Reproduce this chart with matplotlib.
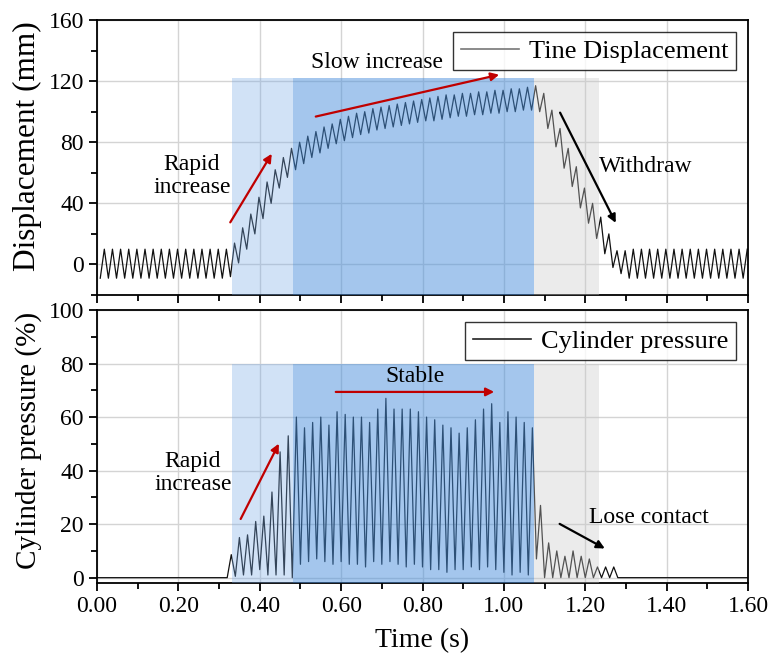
import numpy as np
import matplotlib.pyplot as plt
from matplotlib.ticker import MultipleLocator, FormatStrFormatter

plt.rcParams["font.family"] = ["Liberation Serif", "DejaVu Serif"]

# one oscillation cycle of the tine every 0.02 s, 80 cycles over the record
cycle_period = 0.02

# tine displacement (mm): lowest and highest point of each cycle
disp_trough = [-9] * 16 + [
    -8, 1, 10, 20, 30, 40, 50, 57, 62, 66, 70, 73, 76, 79, 81, 83,
    85, 86, 88, 89, 90, 91, 92, 93, 94, 94, 95, 96, 97, 97, 98, 98,
    99, 99, 100, 100, 101, 101,
    100, 89, 77, 63, 51, 37, 27, 17, 7, -2, -6,
] + [-9] * 15
disp_peak = [10] * 16 + [
    14, 24, 33, 44, 54, 62, 70, 76, 80, 84, 87, 90, 92, 95, 97, 99,
    100, 102, 103, 104, 105, 106, 107, 108, 109, 110, 111, 111, 112, 112, 113, 113,
    114, 114, 115, 115, 116, 117,
    112, 101, 89, 76, 64, 50, 40, 31, 20, 9, 9,
] + [10] * 15

# cylinder pressure (%): lowest and highest point of each cycle
pres_trough = [0] * 16 + [
    0, 0.5, 1, 1, 3, 1, 1, 1,
    0, 5, 6, 7, 6, 5, 6, 5, 5, 4, 6, 5, 6, 5, 4, 5,
    4, 3, 3, 2, 3, 3, 4, 3, 4, 3, 2, 1, 2, 1,
    7, 0, 0, 0, 0, 0, 0, 0, 0, 0,
] + [0] * 16
pres_peak = [0] * 16 + [
    8.6, 15, 16, 21, 23, 32, 47, 53,
    60, 56, 58, 60, 57, 62, 61, 60, 60, 58, 63, 67, 63, 63, 63, 62,
    60, 59, 57, 56, 54, 56, 59, 63, 65, 58, 62, 60, 58, 56,
    27, 13, 10, 8, 10, 8, 7, 4, 4, 4,
] + [0] * 16

# phases of the experiment (s)
phase_edges = [0.332, 0.482, 1.075, 1.233]
phase_colors = ["#78aae6", "#4a8fdc", "#c8c8c8"]
phase_alpha = [0.34, 0.5, 0.36]


def build_wave(troughs, peaks, trough_pos, peak_pos):
    t, y = [], []
    for k, (lo, hi) in enumerate(zip(troughs, peaks)):
        pts = sorted([(trough_pos, lo), (peak_pos, hi)])
        for frac, val in pts:
            t.append((k + frac) * cycle_period)
            y.append(val)
    return np.array(t), np.array(y)


t_disp, y_disp = build_wave(disp_trough, disp_peak, 0.4, 0.9)
t_pres, y_pres = build_wave(pres_trough, pres_peak, 0.0, 0.5)
t_pres = np.concatenate([[0.0], t_pres, [1.6]])
y_pres = np.concatenate([[0.0], y_pres, [0.0]])

fig = plt.figure(figsize=(7.71, 6.67), dpi=100)
ax1 = fig.add_axes([0.1258, 0.5577, 0.8444, 0.4123])
ax2 = fig.add_axes([0.1258, 0.1259, 0.8444, 0.4093])

red = "#c00000"


def style_axes(ax, ylim, ymajor, yminor, ylabel, label_size, label_y, show_x):
    ax.set_xlim(0, 1.6)
    ax.set_ylim(*ylim)
    ax.xaxis.set_major_locator(MultipleLocator(0.2))
    ax.xaxis.set_minor_locator(MultipleLocator(0.1))
    ax.yaxis.set_major_locator(MultipleLocator(ymajor))
    ax.yaxis.set_minor_locator(MultipleLocator(yminor))
    ax.xaxis.set_major_formatter(FormatStrFormatter("%.2f"))
    ax.tick_params(which="both", direction="out", top=False, right=False,
                   labelsize=17, width=1.3)
    ax.tick_params(which="major", length=6)
    ax.tick_params(which="minor", length=4)
    if not show_x:
        ax.tick_params(axis="x", labelbottom=False)
    ax.grid(True, which="major", color="#d4d4d4", lw=1.0, zorder=0)
    ax.set_axisbelow(True)
    for s in ax.spines.values():
        s.set_linewidth(1.3)
    ax.set_ylabel(ylabel, fontsize=label_size)
    ax.yaxis.set_label_coords(-0.085, label_y)


def shade(ax, y0, y1):
    for i in range(3):
        ax.fill_between([phase_edges[i], phase_edges[i + 1]], y0, y1,
                        color=phase_colors[i], alpha=phase_alpha[i], lw=0, zorder=3)


def add_legend(ax, line_color):
    leg = ax.legend(loc="upper right", fontsize=19, frameon=True, fancybox=False,
                    edgecolor="black", handlelength=2.2, handletextpad=0.4,
                    borderpad=0.28, borderaxespad=0.45)
    leg.get_frame().set_linewidth(1.0)
    leg.get_lines()[0].set_color(line_color)
    leg.get_lines()[0].set_linewidth(1.2)


arrow = dict(arrowstyle="-|>", lw=1.6, mutation_scale=12)

# displacement
ax1.plot(t_disp, y_disp, color="#111111", lw=0.9, zorder=2, label="Tine Displacement")
shade(ax1, -20, 122)
style_axes(ax1, (-20, 160), 40, 20, "Displacement (mm)", 22.5, 0.54, False)
add_legend(ax1, "#777777")

ax1.annotate("", xy=(0.433, 74), xytext=(0.324, 26),
             arrowprops=dict(arrow, color=red), zorder=5)
ax1.text(0.233, 58, "Rapid\nincrease", fontsize=17, ha="center", va="center",
         linespacing=1.1, zorder=5)
ax1.annotate("", xy=(0.995, 124.6), xytext=(0.531, 96.4),
             arrowprops=dict(arrow, color=red), zorder=5)
ax1.text(0.688, 132, "Slow increase", fontsize=17, ha="center", va="center", zorder=5)
ax1.annotate("", xy=(1.278, 25.6), xytext=(1.135, 101),
             arrowprops=dict(arrow, color="black"), zorder=5)
ax1.text(1.349, 64, "Withdraw", fontsize=17, ha="center", va="center", zorder=5)

# cylinder pressure
ax2.plot(t_pres, y_pres, color="#111111", lw=0.9, zorder=2, label="Cylinder pressure")
shade(ax2, -2, 80)
style_axes(ax2, (-2, 100), 20, 10, "Cylinder pressure (%)", 21, 0.524, True)
ax2.set_xlabel("Time (s)", fontsize=20, labelpad=8)
add_legend(ax2, "#222222")

ax2.annotate("", xy=(0.45, 51), xytext=(0.35, 21),
             arrowprops=dict(arrow, color=red), zorder=5)
ax2.text(0.236, 39, "Rapid\nincrease", fontsize=17, ha="center", va="center",
         linespacing=1.1, zorder=5)
ax2.annotate("", xy=(0.983, 69.4), xytext=(0.58, 69.4),
             arrowprops=dict(arrow, color=red), zorder=5)
ax2.text(0.782, 75, "Stable", fontsize=17, ha="center", va="center", zorder=5)
ax2.annotate("", xy=(1.254, 10.4), xytext=(1.131, 20.6),
             arrowprops=dict(arrow, color="black"), zorder=5)
ax2.text(1.357, 22.4, "Lose contact", fontsize=17, ha="center", va="center", zorder=5)

fig.savefig("out.png", dpi=100)
